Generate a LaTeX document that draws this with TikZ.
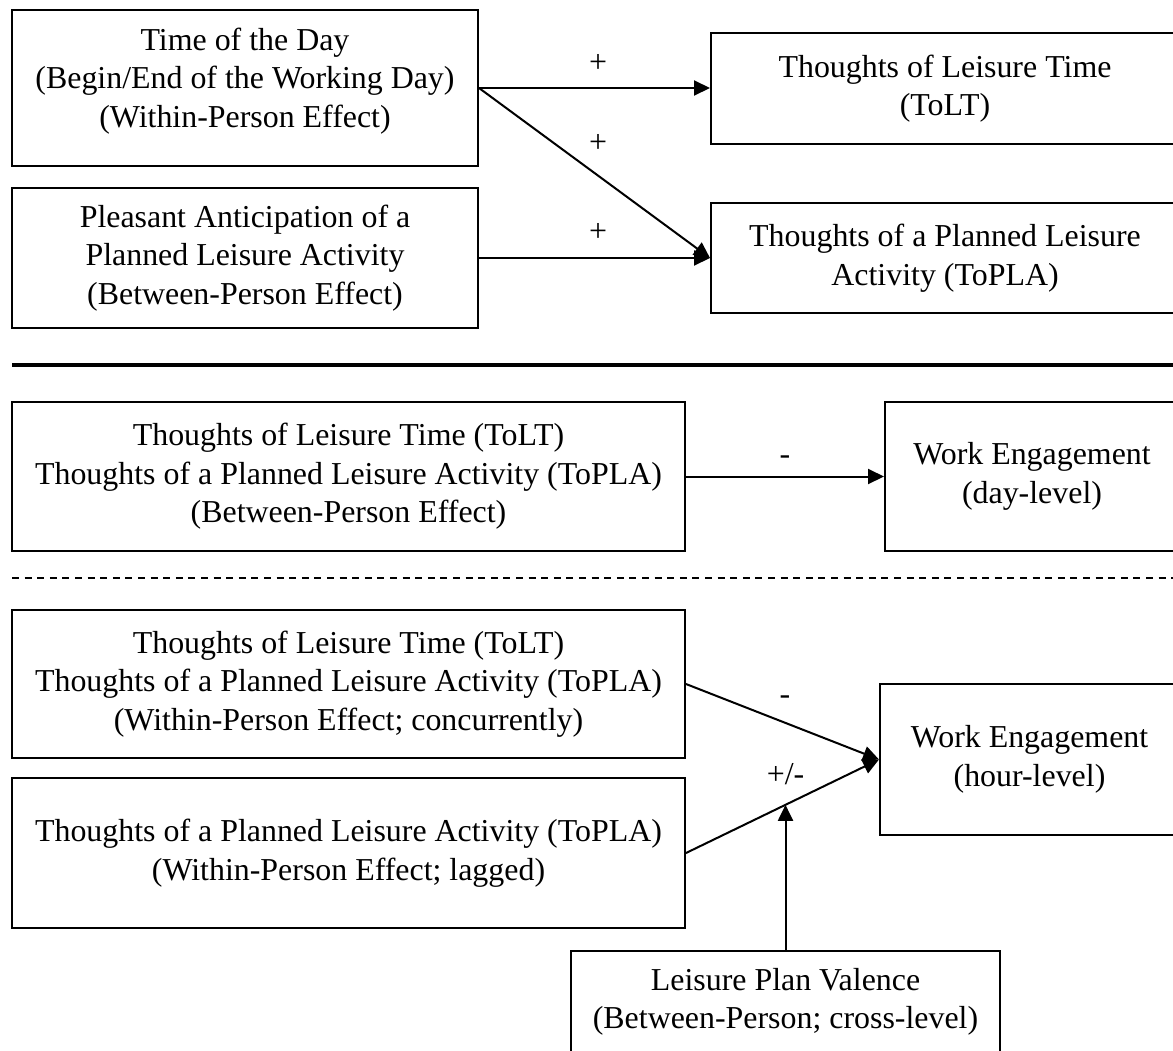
\documentclass[tikz,border=0pt]{standalone}
\usepackage{fontspec}
\setmainfont{Liberation Serif}
\usetikzlibrary{arrows.meta,calc}
\begin{document}
\begin{tikzpicture}[x=1pt,y=-1pt,
  mainfont/.style={font=\fontsize{31.9}{38.5}\selectfont},
  box/.style={draw, line width=2pt, rectangle, inner sep=0pt, align=center, mainfont},
  txt/.style={inner sep=0pt, align=center, mainfont},
  lab/.style={inner sep=0pt, mainfont, text height=0.75em, text depth=0.25em},
  conn/.style={line width=2pt, -{Triangle[length=16pt,width=15pt]}},
]
\useasboundingbox (0,0) rectangle (1173,1050);
\fill[white] (0,0) rectangle (1173,1050);

% top section
\node[box, minimum width=466pt, minimum height=156pt] (A) at (245,88) {};
\node[txt] (At) at (245,81) {Time of the Day\\(Begin/End of the Working Day)\\(Within-Person Effect)};
\node[box, minimum width=468pt, minimum height=111pt] (B) at (945,88.5) {Thoughts of Leisure Time\\(ToLT)};
\node[box, minimum width=466pt, minimum height=140pt] (C) at (245,258) {Pleasant Anticipation of a\\Planned Leisure Activity\\(Between-Person Effect)};
\node[box, minimum width=468pt, minimum height=110pt] (D) at (945,258) {Thoughts of a Planned Leisure\\Activity (ToPLA)};

\draw[conn] (A.east) -- (A.east -| B.west);
\draw[conn] (A.east) -- (D.west);
\draw[conn] (C.east) -- (D.west);
\node[lab] (p1) at (598,70) {+};
\node[lab] (p2) at (598,150) {+};
\node[lab] (p3) at (598,239) {+};

% separator
\coordinate (s1) at (12,365);
\coordinate (s2) at (1173,365);
\draw[line width=3.5pt] (s1) -- (s2);

% middle section
\node[box, minimum width=673pt, minimum height=149pt] (E) at (348.5,476.5) {Thoughts of Leisure Time (ToLT)\\Thoughts of a Planned Leisure Activity (ToPLA)\\(Between-Person Effect)};
\node[box, minimum width=294pt, minimum height=149pt] (F) at (1032,476.5) {Work Engagement\\(day-level)};
\draw[conn] (E.east) -- (F.west);
\node[lab] (m1) at (785,462) {-};

% dashed separator
\coordinate (d1) at (12,578);
\coordinate (d2) at (1173,578);
\draw[line width=2pt, dash pattern=on 7pt off 5.6pt] (d1) -- (d2);

% bottom section
\node[box, minimum width=673pt, minimum height=148pt] (G) at (348.5,684) {Thoughts of Leisure Time (ToLT)\\Thoughts of a Planned Leisure Activity (ToPLA)\\(Within-Person Effect; concurrently)};
\node[box, minimum width=673pt, minimum height=150pt] (H) at (348.5,853) {Thoughts of a Planned Leisure Activity (ToPLA)\\(Within-Person Effect; lagged)};
\node[box, minimum width=299pt, minimum height=151pt] (I) at (1029.5,759.5) {Work Engagement\\(hour-level)};
\node[box, minimum width=429pt, minimum height=102pt] (J) at (785.5,1002) {Leisure Plan Valence\\(Between-Person; cross-level)};

\draw[conn] (G.east) -- (I.west);
\draw[conn] (H.east) -- (I.west);
\path (H.east) -- (I.west) coordinate[pos=0.5154] (mid);
\draw[conn] (J.north) -- (J.north |- mid);
\node[lab] (m2) at (785,702) {-};
\node[lab] (pm) at (785.5,782) {+/-};
\end{tikzpicture}
\end{document}
